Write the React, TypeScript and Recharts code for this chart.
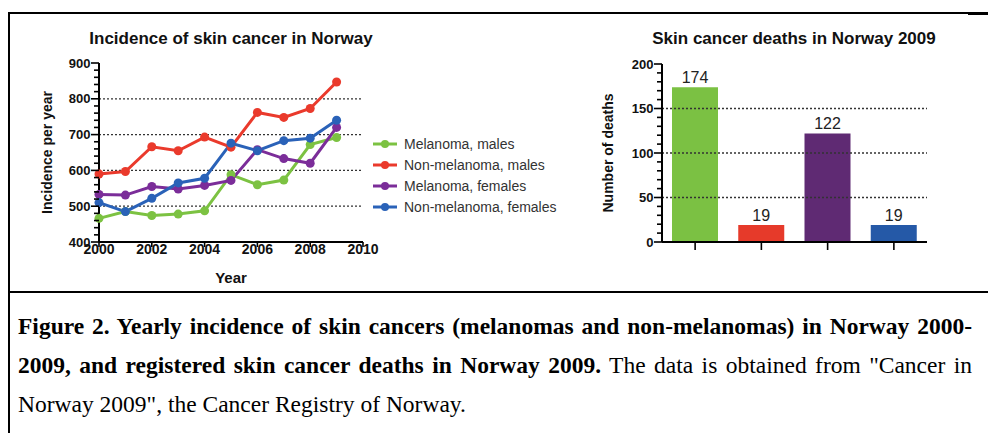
import {
  Bar,
  BarChart,
  Cell,
  LabelList,
  Legend,
  Line,
  LineChart,
  ReferenceLine,
  XAxis,
  YAxis,
} from 'recharts';

const years = [2000, 2001, 2002, 2003, 2004, 2005, 2006, 2007, 2008, 2009];
const melanomaMales = [466, 485, 474, 478, 487, 588, 560, 573, 672, 692];
const nonMelanomaMales = [590, 597, 666, 655, 693, 665, 762, 748, 773, 847];
const melanomaFemales = [533, 531, 555, 548, 558, 572, 658, 633, 620, 720];
const nonMelanomaFemales = [510, 485, 522, 565, 578, 676, 655, 683, 690, 740];

const yearTicks = [2000, 2002, 2004, 2006, 2008, 2010];
const incidenceTicks = [400, 420, 440, 460, 480, 500, 520, 540, 560, 580, 600, 620, 640, 660, 680, 700, 720, 740, 760, 780, 800, 820, 840, 860, 880, 900];
const incidenceGrid = [500, 600, 700, 800];

const deathCategories = ['Melanoma, males', 'Non-melanoma, males', 'Melanoma, females', 'Non-melanoma, females'];
const deaths = [174, 19, 122, 19];
const deathTicks = [0, 10, 20, 30, 40, 50, 60, 70, 80, 90, 100, 110, 120, 130, 140, 150, 160, 170, 180, 190, 200];
const deathGrid = [50, 100, 150];

const SERIES = [
  { key: 'mm', name: 'Melanoma, males', color: '#7cc242', values: melanomaMales },
  { key: 'nm', name: 'Non-melanoma, males', color: '#ea3a2c', values: nonMelanomaMales },
  { key: 'mf', name: 'Melanoma, females', color: '#7b2d99', values: melanomaFemales },
  { key: 'nf', name: 'Non-melanoma, females', color: '#2a62b8', values: nonMelanomaFemales },
];
const BAR_COLORS = ['#7bc143', '#e63a2a', '#5f2a73', '#2559a7'];

const lineData = years.map((year, i) => {
  const row: Record<string, number> = { year };
  SERIES.forEach((s) => (row[s.key] = s.values[i]));
  return row;
});
const barData = deathCategories.map((name, i) => ({ name, deaths: deaths[i] }));

const SANS = '"Liberation Sans", Arial, sans-serif';

const makeYTick = (major: number, fontSize: number) => (props: any) => {
  const { x, y, payload } = props;
  const isMajor = payload.value % major === 0;
  return (
    <g>
      <line x1={x} x2={x - (isMajor ? 8 : 5)} y1={y} y2={y} stroke="#000" strokeWidth={1.6} />
      {isMajor && (
        <text x={x - 8.5} y={y} dy={fontSize * 0.36} textAnchor="end" fontSize={fontSize} fontWeight="bold" fill="#111" fontFamily={SANS}>
          {payload.value}
        </text>
      )}
    </g>
  );
};

const YearTick = (props: any) => {
  const { x, y, payload } = props;
  return (
    <g>
      <line x1={x} x2={x} y1={y} y2={y + 5} stroke="#000" strokeWidth={1.6} />
      <text x={x} y={y + 12} textAnchor="middle" fontSize={14} fontWeight="bold" fill="#111" fontFamily={SANS}>
        {payload.value}
      </text>
    </g>
  );
};

const CategoryTick = (props: any) => {
  const { x, y } = props;
  return <line x1={x} x2={x} y1={y} y2={y + 8} stroke="#000" strokeWidth={1.6} />;
};

// legend keeps the series order of the figure
const LegendContent = () => (
  <div style={{ fontFamily: SANS, fontSize: 14, color: '#333' }}>
    {SERIES.map((s) => (
      <div key={s.key} style={{ display: 'flex', alignItems: 'center', height: 21 }}>
        <svg width={26} height={10} style={{ marginRight: 6 }}>
          <line x1={1} x2={25} y1={5} y2={5} stroke={s.color} strokeWidth={3} />
          <circle cx={13} cy={5} r={4} fill={s.color} />
        </svg>
        <span>{s.name}</span>
      </div>
    ))}
  </div>
);

const axisLine = { stroke: '#000', strokeWidth: 2 };

function IncidenceChart() {
  return (
    <LineChart width={560} height={292} data={lineData} margin={{ top: 63, right: 197, bottom: 5, left: 39 }}>
      {incidenceGrid.map((v) => (
        <ReferenceLine key={v} y={v} stroke="#333" strokeWidth={1.3} strokeDasharray="2 2" />
      ))}
      <XAxis
        dataKey="year"
        type="number"
        domain={[2000, 2010]}
        ticks={yearTicks}
        height={45}
        tickSize={0}
        tickMargin={0}
        tick={YearTick}
        tickLine={false}
        axisLine={axisLine}
        label={{ value: 'Year', position: 'insideBottom', offset: 4, fontSize: 15, fontWeight: 'bold', fill: '#111', fontFamily: SANS }}
      />
      <YAxis
        domain={[400, 900]}
        ticks={incidenceTicks}
        interval={0}
        width={60}
        tickSize={0}
        tickMargin={0}
        tick={makeYTick(100, 13)}
        tickLine={false}
        axisLine={axisLine}
        label={{
          value: 'Incidence per year',
          angle: -90,
          position: 'insideLeft',
          offset: 8,
          fontSize: 14,
          fontWeight: 'bold',
          fill: '#111',
          fontFamily: SANS,
          style: { textAnchor: 'middle' },
        }}
      />
      <Legend
        layout="vertical"
        align="center"
        verticalAlign="middle"
        content={LegendContent}
        wrapperStyle={{ left: 372, top: 133, width: 200 }}
      />
      {SERIES.map((s) => (
        <Line
          key={s.key}
          dataKey={s.key}
          name={s.name}
          stroke={s.color}
          strokeWidth={3}
          dot={{ r: 4.5, fill: s.color, stroke: 'none' }}
          activeDot={false}
          isAnimationActive={false}
        />
      ))}
    </LineChart>
  );
}

function DeathsChart() {
  return (
    <BarChart width={428} height={292} data={barData} margin={{ top: 64, right: 61, bottom: 30, left: 42 }}>
      {deathGrid.map((v) => (
        <ReferenceLine key={v} y={v} stroke="#333" strokeWidth={1.3} strokeDasharray="2 2" />
      ))}
      <XAxis dataKey="name" height={20} tickSize={0} tickMargin={0} tick={CategoryTick} tickLine={false} axisLine={axisLine} interval={0} />
      <YAxis
        domain={[0, 200]}
        ticks={deathTicks}
        interval={0}
        width={60}
        tickSize={0}
        tickMargin={0}
        tick={makeYTick(50, 13)}
        tickLine={false}
        axisLine={axisLine}
        label={{
          value: 'Number of deaths',
          angle: -90,
          position: 'insideLeft',
          offset: 6,
          fontSize: 14,
          fontWeight: 'bold',
          fill: '#111',
          fontFamily: SANS,
          style: { textAnchor: 'middle' },
        }}
      />
      <Bar dataKey="deaths" barSize={46} isAnimationActive={false}>
        {barData.map((d, i) => (
          <Cell key={d.name} fill={BAR_COLORS[i]} />
        ))}
        <LabelList dataKey="deaths" position="top" offset={4} fontSize={16} fill="#222" fontFamily={SANS} />
      </Bar>
    </BarChart>
  );
}

const titleStyle = {
  position: 'absolute' as const,
  width: 400,
  textAlign: 'center' as const,
  fontFamily: SANS,
  fontWeight: 'bold',
  fontSize: 17,
  lineHeight: '20px',
  color: '#111',
  top: 29,
};

const captionLine = {
  position: 'absolute' as const,
  left: 18,
  width: 954,
  fontFamily: '"Liberation Serif", "Times New Roman", serif',
  fontSize: 23.5,
  lineHeight: '38px',
  color: '#000',
  whiteSpace: 'nowrap' as const,
};

export default function App() {
  return (
    <div style={{ position: 'absolute', left: 0, top: 0, width: 988, height: 433, background: '#fff', overflow: 'hidden' }}>
      <div style={{ position: 'absolute', left: 8, top: 12, width: 980, height: 1.5, background: '#000' }} />
      <div style={{ position: 'absolute', left: 968, top: 11.5, width: 20, height: 3, background: '#000' }} />
      <div style={{ position: 'absolute', left: 8, top: 12, width: 1.6, height: 421, background: '#000' }} />
      <div style={{ position: 'absolute', left: 8, top: 291, width: 980, height: 2, background: '#000' }} />

      <div style={{ ...titleStyle, left: 31 }}>Incidence of skin cancer in Norway</div>
      <div style={{ ...titleStyle, left: 594 }}>Skin cancer deaths in Norway 2009</div>

      <div style={{ position: 'absolute', left: 0, top: 0 }}>
        <IncidenceChart />
      </div>
      <div style={{ position: 'absolute', left: 560, top: 0 }}>
        <DeathsChart />
      </div>

      <div style={{ ...captionLine, top: 307, textAlign: 'justify', textAlignLast: 'justify', whiteSpace: 'normal' }}>
        <b>Figure 2. Yearly incidence of skin cancers (melanomas and non-melanomas) in Norway 2000-</b>
      </div>
      <div style={{ ...captionLine, top: 346, textAlign: 'justify', textAlignLast: 'justify', whiteSpace: 'normal' }}>
        <b>2009, and registered skin cancer deaths in Norway 2009.</b> The data is obtained from "Cancer in
      </div>
      <div style={{ ...captionLine, top: 384.5 }}>Norway 2009", the Cancer Registry of Norway.</div>
    </div>
  );
}
